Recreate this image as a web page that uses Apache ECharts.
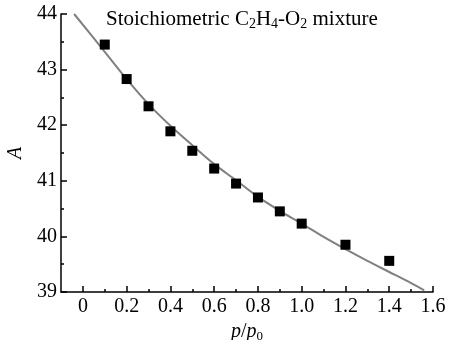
<!DOCTYPE html>
<html><head><meta charset="utf-8">
<script src="https://cdn.jsdelivr.net/npm/echarts@6/dist/echarts.min.js"></script>
<style>html,body{margin:0;padding:0;background:#fff}#c{width:452px;height:340px}</style>
</head><body><div id="c"></div>
<script>
// Measured data points
const pX = [0.1, 0.2, 0.3, 0.4, 0.5, 0.6, 0.7, 0.8, 0.9, 1.0, 1.2, 1.4];
const pA = [43.45, 42.83, 42.34, 41.89, 41.54, 41.22, 40.95, 40.70, 40.45, 40.23, 39.85, 39.56];
// Fitted curve
const fitX = [-0.04, 0.1, 0.2, 0.3, 0.4, 0.5, 0.6, 0.7, 0.8, 0.9, 1.0, 1.1, 1.2, 1.3, 1.4, 1.5, 1.56];
const fitA = [44.0, 43.32, 42.83, 42.38, 41.99, 41.64, 41.30, 41.01, 40.71, 40.46, 40.23, 39.99, 39.77, 39.56, 39.36, 39.16, 39.03];
const xMajor = [0, 0.2, 0.4, 0.6, 0.8, 1.0, 1.2, 1.4, 1.6];
const xMinor = [0.1, 0.3, 0.5, 0.7, 0.9, 1.1, 1.3, 1.5];
const xLabels = ['0', '0.2', '0.4', '0.6', '0.8', '1.0', '1.2', '1.4', '1.6'];

const FONT = 'Liberation Serif';
const chart = echarts.init(document.getElementById('c'), null, {renderer: 'canvas'});
const axisLine = {show: true, onZero: false, lineStyle: {color: '#000', width: 1.5}};
chart.setOption({
  animation: false,
  backgroundColor: '#fff',
  textStyle: {fontFamily: FONT, color: '#000'},
  title: {
    text: 'Stoichiometric C{s|2}H{s|4}-O{s|2} mixture',
    left: 101, top: 2,
    textStyle: {
      fontFamily: FONT, fontSize: 21, fontWeight: 'normal', color: '#000',
      rich: {s: {fontFamily: FONT, fontSize: 14, color: '#000', verticalAlign: 'bottom', padding: [10, 0, 0, 0]}}
    }
  },
  grid: {left: 61, right: 19, top: 14, bottom: 48, containLabel: false, outerBoundsMode: 'none'},
  xAxis: [{
    type: 'value', min: -0.1, max: 1.6,
    axisLine: axisLine,
    splitLine: {show: false},
    axisTick: {show: true, inside: true, length: 6, customValues: xMajor, lineStyle: {color: '#000', width: 1.5}},
    axisLabel: {show: true, customValues: xMajor, margin: 5, fontFamily: FONT, fontSize: 20, color: '#000',
      formatter: function (v) { const i = xMajor.findIndex(m => Math.abs(m - v) < 1e-6); return i >= 0 ? xLabels[i] : ''; }},
    name: '{i|p}/{i|p}{s|0}', nameLocation: 'middle', nameGap: 20,
    nameTextStyle: {fontFamily: FONT, fontSize: 20, color: '#000',
      rich: {i: {fontFamily: FONT, fontSize: 20, fontStyle: 'italic', color: '#000'},
             s: {fontFamily: FONT, fontSize: 13, color: '#000', verticalAlign: 'bottom', padding: [10, 0, 0, 0]}}}
  }, {
    type: 'value', min: -0.1, max: 1.6, position: 'bottom',
    axisLine: {show: false, onZero: false}, splitLine: {show: false},
    axisTick: {show: true, inside: true, length: 3, customValues: xMinor, lineStyle: {color: '#000', width: 1.5}},
    axisLabel: {show: false}
  }],
  yAxis: {
    type: 'value', min: 39, max: 44, interval: 1,
    axisLine: axisLine,
    splitLine: {show: false},
    axisTick: {show: true, inside: true, length: 6, lineStyle: {color: '#000', width: 1.5}},
    minorTick: {show: true, splitNumber: 2, length: 3, lineStyle: {color: '#000', width: 1.5}},
    axisLabel: {margin: 4, fontFamily: FONT, fontSize: 20, color: '#000'},
    name: 'A', nameLocation: 'middle', nameGap: 34,
    nameTextStyle: {fontFamily: FONT, fontSize: 20, fontStyle: 'italic', color: '#000'}
  },
  series: [{
    type: 'line', xAxisIndex: 0,
    data: fitX.map((x, i) => [x, fitA[i]]),
    showSymbol: false, smooth: 0.3,
    lineStyle: {color: '#808080', width: 2},
    z: 1
  }, {
    type: 'scatter', xAxisIndex: 0,
    data: pX.map((x, i) => [x, pA[i]]),
    symbol: 'rect', symbolSize: 10,
    itemStyle: {color: '#000', opacity: 1},
    z: 2
  }]
});
</script></body></html>
